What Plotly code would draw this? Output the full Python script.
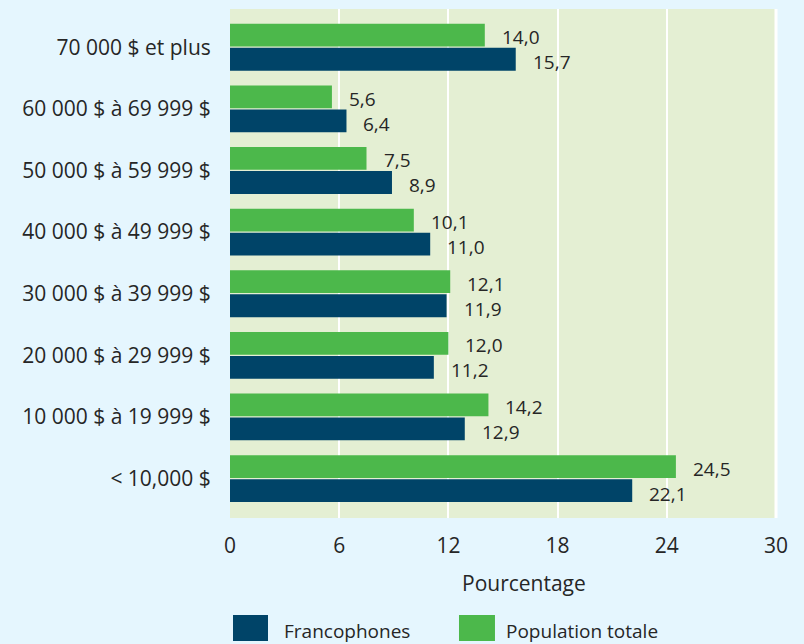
import plotly.graph_objects as go

categories = [
    "< 10,000 $",
    "10 000 $ à 19 999 $",
    "20 000 $ à 29 999 $",
    "30 000 $ à 39 999 $",
    "40 000 $ à 49 999 $",
    "50 000 $ à 59 999 $",
    "60 000 $ à 69 999 $",
    "70 000 $ et plus",
]
francophones = [22.1, 12.9, 11.2, 11.9, 11.0, 8.9, 6.4, 15.7]
population_totale = [24.5, 14.2, 12.0, 12.1, 10.1, 7.5, 5.6, 14.0]
x_ticks = [0, 6, 12, 18, 24, 30]

NAVY = "#004468"
GREEN = "#4cb84b"
TXT = "#262626"
FONT = "Open Sans"


def fr(v):
    return f"{v:.1f}".replace(".", ",")


fig = go.Figure()
fig.add_trace(go.Bar(
    y=categories, x=francophones, orientation="h", name="Francophones",
    marker=dict(color=NAVY, line=dict(width=0)), showlegend=False,
))
fig.add_trace(go.Bar(
    y=categories, x=population_totale, orientation="h", name="Population totale",
    marker=dict(color=GREEN, line=dict(width=0)), showlegend=False,
))

annotations = []
for c, v in zip(categories, population_totale):
    annotations.append(dict(x=v, y=c, xref="x", yref="y", text=fr(v), showarrow=False,
                            xanchor="left", yanchor="middle", xshift=15, yshift=10,
                            font=dict(family=FONT, size=19, color=TXT)))
for c, v in zip(categories, francophones):
    annotations.append(dict(x=v, y=c, xref="x", yref="y", text=fr(v), showarrow=False,
                            xanchor="left", yanchor="middle", xshift=15, yshift=-15,
                            font=dict(family=FONT, size=19, color=TXT)))

# axis title
annotations.append(dict(x=0.5385, y=-0.128, xref="paper", yref="paper", text="Pourcentage",
                        showarrow=False, xanchor="center", yanchor="middle",
                        font=dict(family=FONT, size=21, color=TXT)))
# custom legend text
annotations.append(dict(x=0.095, y=-0.222, xref="paper", yref="paper", text="Francophones",
                        showarrow=False, xanchor="left", yanchor="middle",
                        font=dict(family=FONT, size=19, color=TXT)))
annotations.append(dict(x=0.502, y=-0.222, xref="paper", yref="paper", text="Population totale",
                        showarrow=False, xanchor="left", yanchor="middle",
                        font=dict(family=FONT, size=19, color=TXT)))

shapes = [
    dict(type="rect", xref="paper", yref="paper", x0=0.0055, x1=0.0696, y0=-0.2417, y1=-0.1906,
         fillcolor=NAVY, line=dict(width=0)),
    dict(type="rect", xref="paper", yref="paper", x0=0.4194, x1=0.4853, y0=-0.2417, y1=-0.1906,
         fillcolor=GREEN, line=dict(width=0)),
    # white gridline at the right edge of the plot area (last tick)
    dict(type="line", xref="paper", yref="paper", x0=1, x1=1, y0=0, y1=1,
         line=dict(color="white", width=3), layer="above"),
]

fig.update_layout(
    width=804, height=644,
    margin=dict(l=230, r=28, t=9, b=126),
    paper_bgcolor="#e5f6fe",
    plot_bgcolor="#e4efd3",
    barmode="group",
    bargap=0.22,
    bargroupgap=0.05,
    font=dict(family=FONT, size=21, color=TXT),
    annotations=annotations,
    shapes=shapes,
    showlegend=False,
)
fig.update_xaxes(
    range=[0, 30], tickvals=x_ticks, ticktext=[str(t) for t in x_ticks],
    showgrid=True, gridcolor="white", gridwidth=2, zeroline=False, showline=False,
    ticks="outside", ticklen=9, tickcolor="rgba(0,0,0,0)",
    tickfont=dict(family=FONT, size=21, color=TXT),
)
fig.update_yaxes(
    range=[-0.64, 7.62], showgrid=False, zeroline=False, showline=False,
    ticks="outside", ticklen=14, tickcolor="rgba(0,0,0,0)",
    tickfont=dict(family=FONT, size=21, color=TXT),
)

fig.write_html(
    "out.html",
    config={"displayModeBar": False},
    post_script="document.body.style.margin='0';document.body.style.padding='0';"
                "document.documentElement.style.overflow='hidden';",
)
